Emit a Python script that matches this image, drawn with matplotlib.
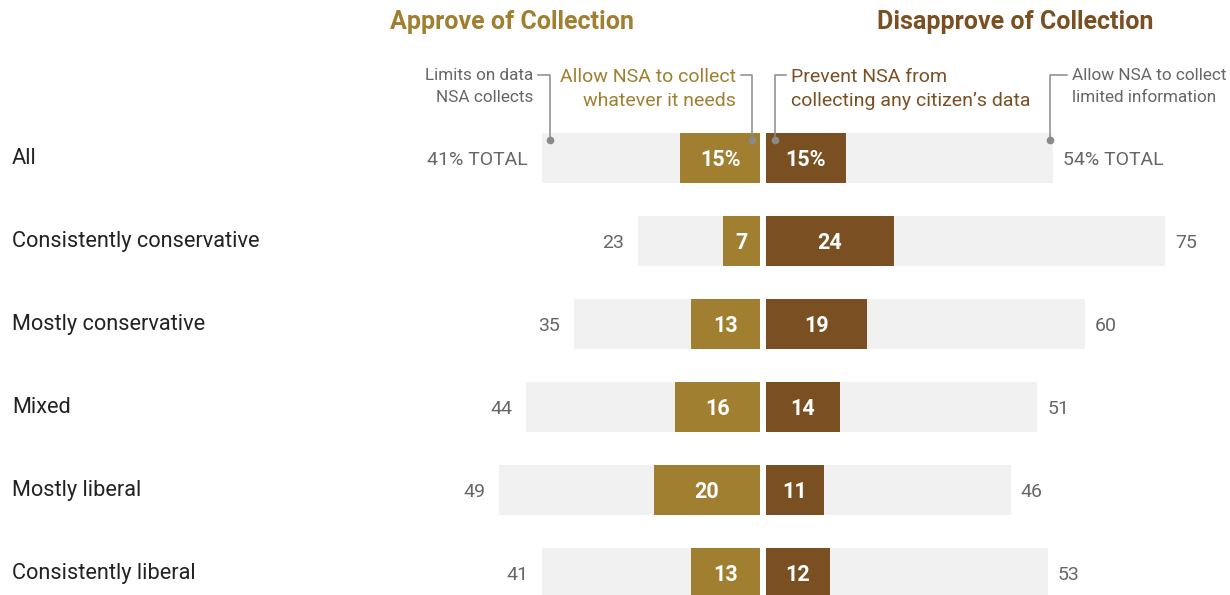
import matplotlib.pyplot as plt

plt.rcParams["font.family"] = ["Roboto", "DejaVu Sans"]

categories = ["All", "Consistently conservative", "Mostly conservative",
              "Mixed", "Mostly liberal", "Consistently liberal"]
approve_total = [41, 23, 35, 44, 49, 41]
approve_any = [15, 7, 13, 16, 20, 13]
disapprove_total = [54, 75, 60, 51, 46, 53]
disapprove_all = [15, 24, 19, 14, 11, 12]

GOLD = "#A08030"
BROWN = "#7A4F22"
LIGHT = "#F1F1F1"
GRAY_TXT = "#666666"
LINE = "#8A8A8A"

PX = 5.33          # pixels per percentage point
CENTER = 763       # pixel column of the divide
GAP = 0.5          # half gap between the two sides (units)
ROW_PX = 83
ROW0_PX = 158
W, H = 1230, 595

fig = plt.figure(figsize=(W / 100, H / 100), dpi=100)
ax = fig.add_axes([0, 0, 1, 1])
ax.set_xlim(-CENTER / PX, (W - CENTER) / PX)
ax.set_ylim((H - ROW0_PX) / ROW_PX, -ROW0_PX / ROW_PX)
ax.axis("off")

bh = 50 / ROW_PX
for i, cat in enumerate(categories):
    ax.barh(i, -approve_total[i], left=-GAP, height=bh, color=LIGHT, zorder=1)
    ax.barh(i, disapprove_total[i], left=GAP, height=bh, color=LIGHT, zorder=1)
    ax.barh(i, -approve_any[i], left=-GAP, height=bh, color=GOLD, zorder=2)
    ax.barh(i, disapprove_all[i], left=GAP, height=bh, color=BROWN, zorder=2)

    sfx = "%" if i == 0 else ""
    ax.text(-GAP - approve_any[i] / 2, i + 0.02, f"{approve_any[i]}{sfx}",
            ha="center", va="center", color="white", fontsize=15.5,
            fontweight="bold", zorder=3)
    ax.text(GAP + disapprove_all[i] / 2, i + 0.02, f"{disapprove_all[i]}{sfx}",
            ha="center", va="center", color="white", fontsize=15.5,
            fontweight="bold", zorder=3)

    ltxt = f"{approve_total[i]}% TOTAL" if i == 0 else f"{approve_total[i]}"
    rtxt = f"{disapprove_total[i]}% TOTAL" if i == 0 else f"{disapprove_total[i]}"
    ax.text(-GAP - approve_total[i] - 2.6, i + 0.02, ltxt, ha="right",
            va="center", color=GRAY_TXT, fontsize=14)
    ax.text(GAP + disapprove_total[i] + 1.8, i + 0.02, rtxt, ha="left",
            va="center", color=GRAY_TXT, fontsize=14)

    ax.text(12 / PX - CENTER / PX, i, cat, ha="left", va="center",
            color="#222222", fontsize=15.7)

# headers
fig.text(512 / W, 1 - 22 / H, "Approve of Collection", ha="center",
         va="center", color=GOLD, fontsize=18, fontweight="bold")
fig.text(1015 / W, 1 - 22 / H, "Disapprove of Collection", ha="center",
         va="center", color=BROWN, fontsize=18, fontweight="bold")

# callouts on the first row
y_dot = (140 - ROW0_PX) / ROW_PX
y_line = (75 - ROW0_PX) / ROW_PX


def callout(x_dot, side, text, color, size, spacing, tick=2.2):
    ax.plot([x_dot], [y_dot], "o", color=LINE, ms=4.5, zorder=4)
    x_end = x_dot - tick if side == "left" else x_dot + tick
    ax.plot([x_dot, x_dot, x_end], [y_dot, y_line, y_line], color=LINE,
            lw=1.1, zorder=4)
    if side == "left":
        ax.text(x_end - 0.9, y_line - 0.09, text, ha="right", va="top",
                color=color, fontsize=size, linespacing=spacing)
    else:
        ax.text(x_end + 0.9, y_line - 0.09, text, ha="left", va="top",
                color=color, fontsize=size, linespacing=spacing)


callout(-GAP - approve_total[0] + 1.5, "left", "Limits on data\nNSA collects",
        GRAY_TXT, 12.3, 1.65)
callout(-GAP - 1.5, "left", "Allow NSA to collect\nwhatever it needs",
        GOLD, 14, 1.45)
callout(GAP + 1.7, "right", "Prevent NSA from\ncollecting any citizen\u2019s data",
        BROWN, 14, 1.45)
callout(GAP + disapprove_total[0] - 0.6, "right",
        "Allow NSA to collect\nlimited information", GRAY_TXT, 12.3, 1.65,
        tick=3.2)

fig.savefig("out.png", dpi=100)
